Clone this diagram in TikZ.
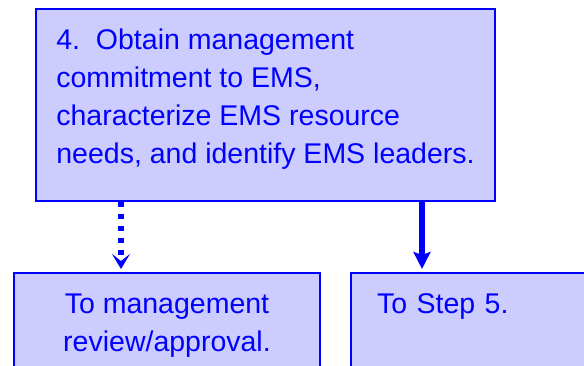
\documentclass[tikz,border=0pt]{standalone}
\usepackage{fontspec}
\setmainfont{Liberation Sans}
\usetikzlibrary{arrows.meta}
\definecolor{emsblue}{RGB}{0,0,255}
\definecolor{emsfill}{RGB}{204,204,255}

\begin{document}
\begin{tikzpicture}[x=1pt, y=1pt,
  every node/.style={draw=emsblue, fill=emsfill, line width=2pt, text=emsblue,
    font=\fontsize{28.5}{38}\selectfont, anchor=north west, inner ysep=20pt},
  lowbox/.style={text depth=60pt}]
  \useasboundingbox (0,0) rectangle (584,366);
  \clip (0,0) rectangle (584,366);

  % Step box
  \node[minimum width=459pt, text height=135pt, text depth=17pt, align=left]
    (step4) at (35,358)
    {4.\ \ Obtain management\\commitment to EMS,\\characterize EMS resource\\needs, and identify EMS leaders.};

  % Next boxes
  \node[lowbox, minimum width=306pt, text height=59pt, align=center] (review) at (13,94)
    {To management\\review/approval.};
  \node[lowbox, text width=250pt, inner xsep=26pt, text height=21pt, align=left]
    (step5) at (350,94) {To Step 5.};

  % Arrows
  \coordinate (dotx) at (121,0);
  \coordinate (solidx) at (422,0);
  \draw[emsblue, line width=5.5pt, dash pattern=on 5pt off 7pt, shorten >=3pt,
    -{Stealth[length=15pt, width=18pt, inset=7pt]}]
    (step4.south -| dotx) -- (review.north -| dotx);
  \draw[emsblue, line width=6pt, shorten >=3pt,
    -{Stealth[length=17pt, width=17pt, inset=3pt]}]
    (step4.south -| solidx) -- (step5.north -| solidx);
\end{tikzpicture}
\end{document}
